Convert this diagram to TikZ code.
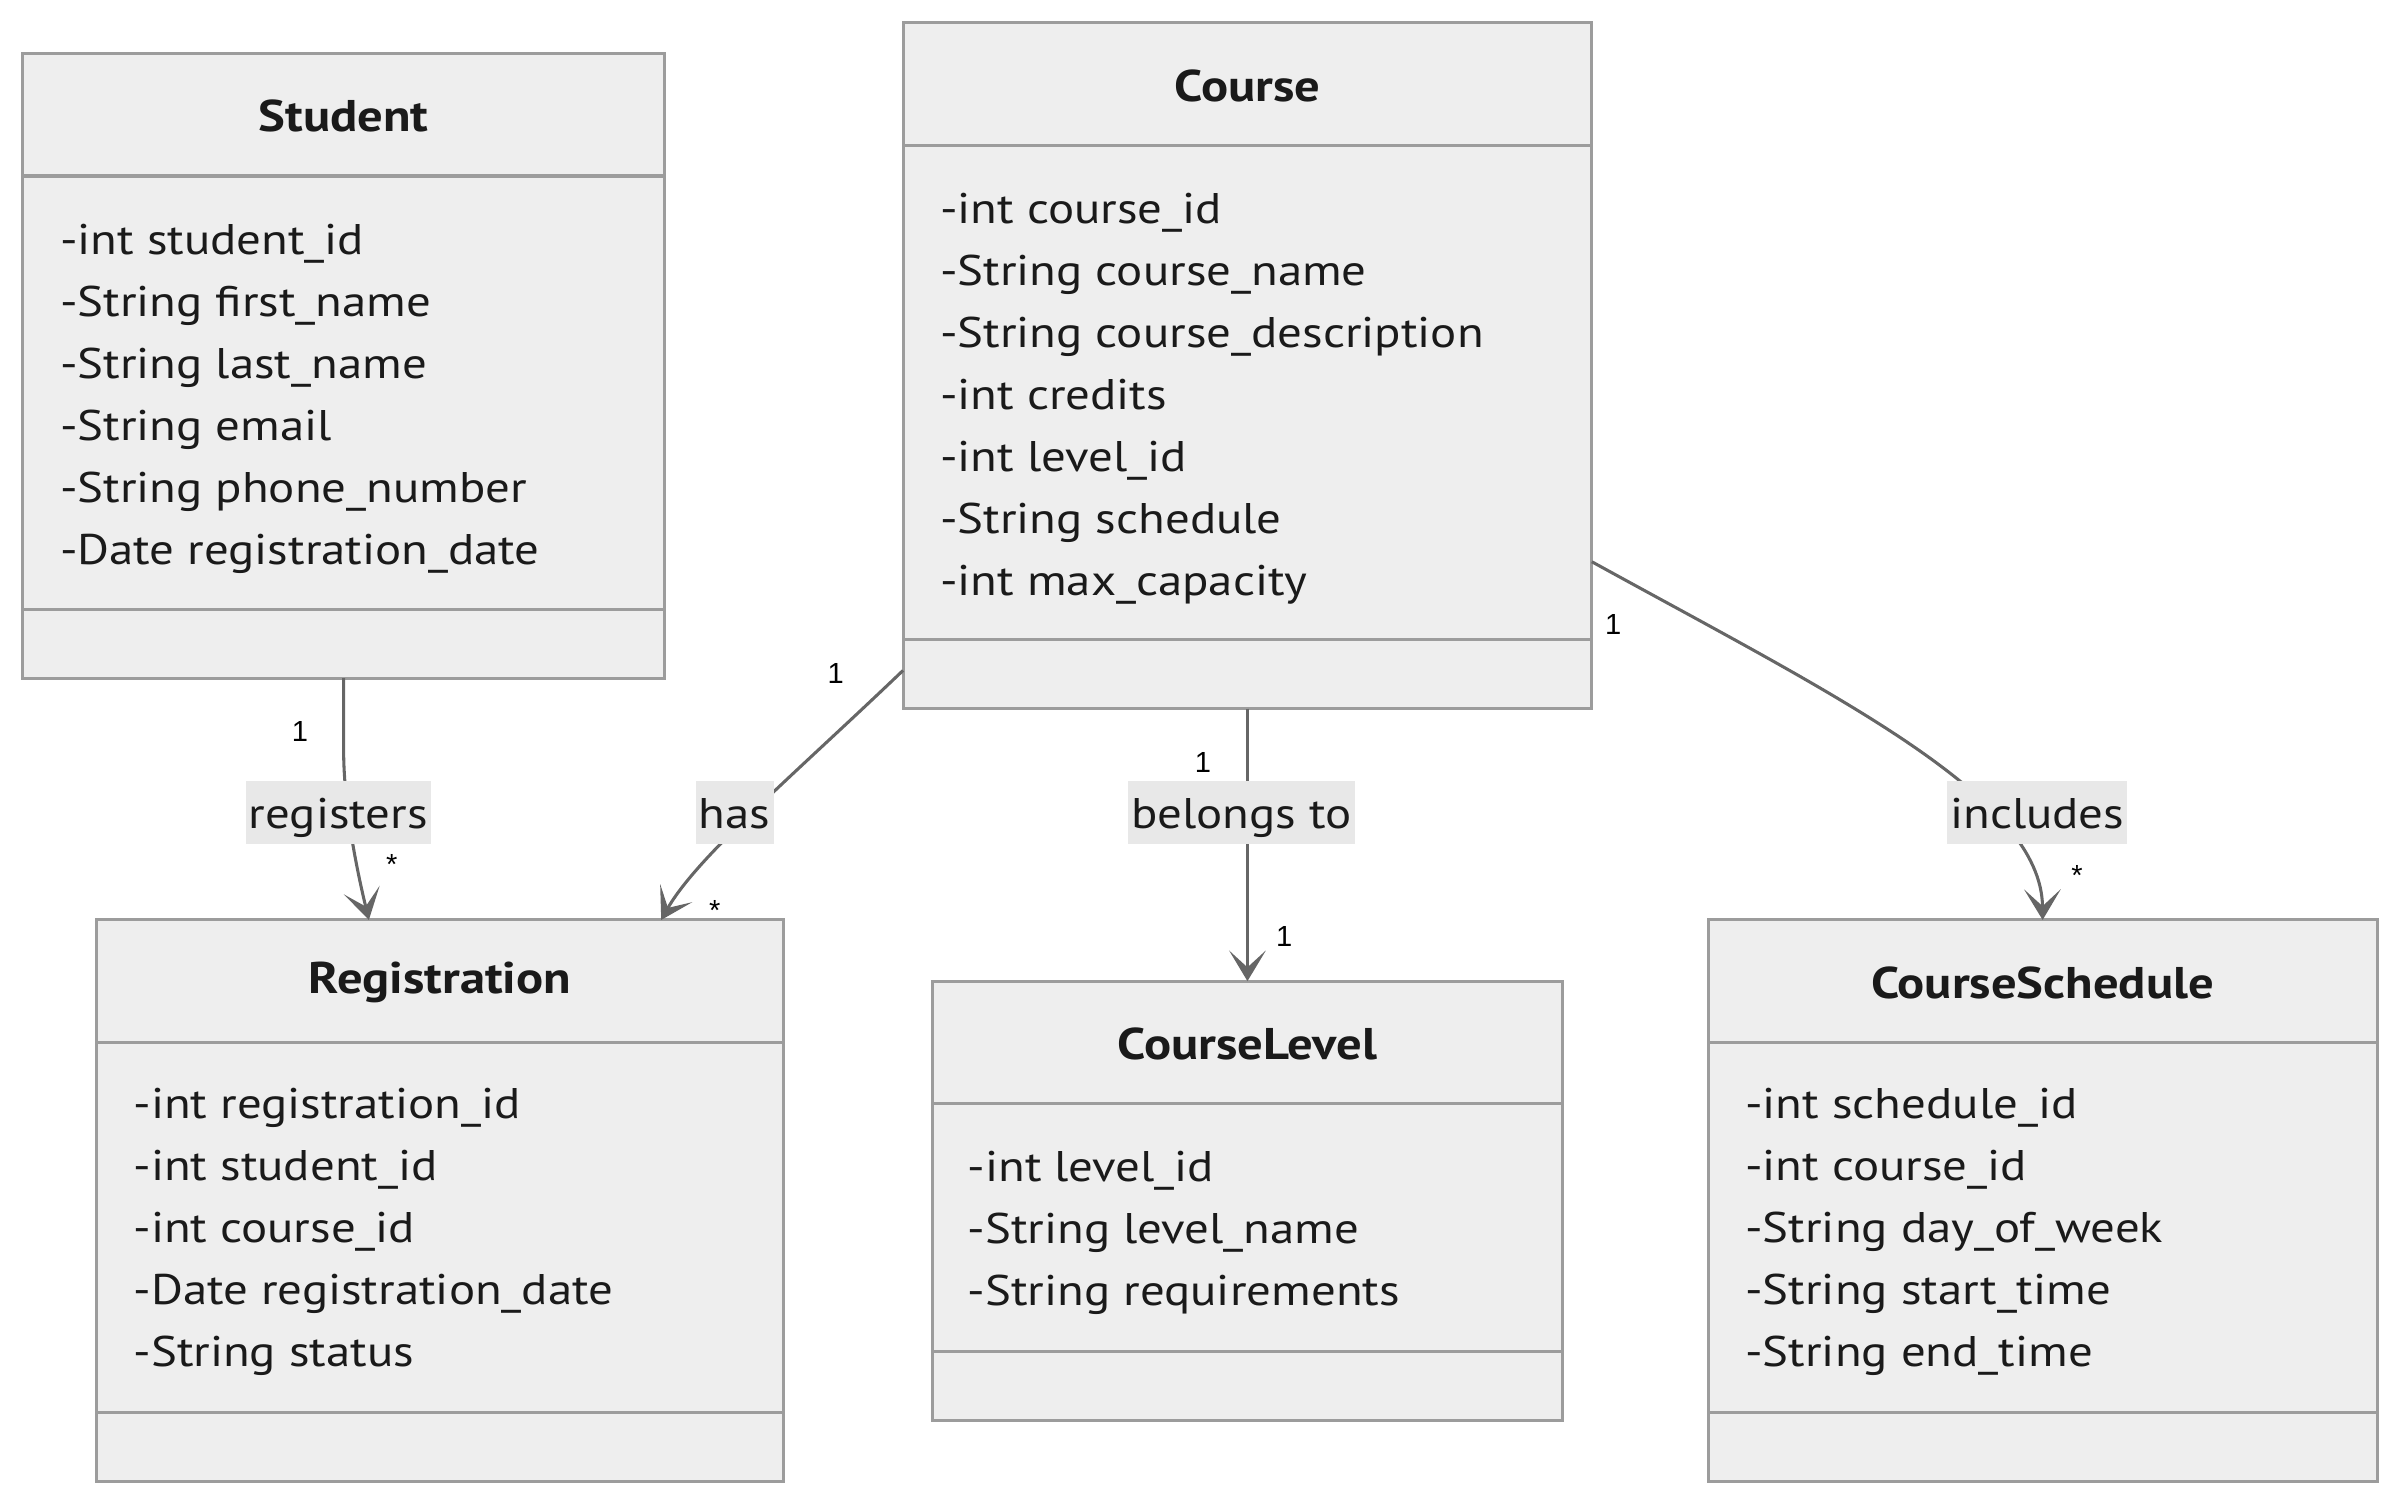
\documentclass[tikz,border=0pt]{standalone}
\usepackage{fontspec}
\setmainfont{PT Sans}[FakeStretch=1.14]
\newfontfamily\multfont{Liberation Sans}
\usetikzlibrary{arrows.meta, positioning, calc}

\definecolor{boxfill}{HTML}{EEEEEE}
\definecolor{boxline}{HTML}{9C9C9C}
\definecolor{edgeline}{HTML}{666666}
\definecolor{lblfill}{HTML}{E8E8E8}
\definecolor{txt}{HTML}{1A1A1A}

\begin{document}
\begin{tikzpicture}[x=1pt, y=-1pt, >={Stealth[length=20pt, width=24pt, inset=11pt]}]
	\tikzstyle{classbox}=[draw=boxline, fill=boxfill, line width=2pt, inner sep=0pt, outer sep=0pt, anchor=north west]
	\tikzstyle{divider}=[draw=boxline, line width=2pt]
	\tikzstyle{title}=[text=txt, font=\fontsize{29}{34}\selectfont\bfseries, inner sep=0pt]
	\tikzstyle{attr}=[text=txt, font=\fontsize{28}{33}\selectfont, anchor=base west, inner sep=0pt]
	\tikzstyle{edge}=[draw=edgeline, line width=2pt]
	\tikzstyle{lbl}=[fill=lblfill, text=txt, font=\fontsize{28}{33}\selectfont, inner xsep=2pt, inner ysep=0pt, text height=24pt, text depth=4pt, minimum height=41pt]
	\tikzstyle{mult}=[text=black, font=\multfont\fontsize{19}{21}\selectfont, inner sep=0pt]

	\useasboundingbox (0,0) rectangle (1568,984);

	% classes
	\node[classbox, minimum width=419pt, minimum height=408pt] (student) at (15,35) {};
	\draw[divider] ($(student.north west)+(0,80)$) -- ($(student.north east)+(0,80)$);
	\draw[divider] ($(student.north west)+(0,363)$) -- ($(student.north east)+(0,363)$);
	\node[title] (student-title) at ($(student.north)+(0,41)$) {Student};
	\foreach \a [count=\i from 0] in {-int student\_id, -String first\_name, -String last\_name, -String email, -String phone\_number, -Date registration\_date}
		\node[attr] (student-a\i) at ($(student.north west)+(24,131+40.5*\i)$) {\a};

	\node[classbox, minimum width=450pt, minimum height=448pt] (course) at (590,15) {};
	\draw[divider] ($(course.north west)+(0,80)$) -- ($(course.north east)+(0,80)$);
	\draw[divider] ($(course.north west)+(0,403)$) -- ($(course.north east)+(0,403)$);
	\node[title] (course-title) at ($(course.north)+(0,41)$) {Course};
	\foreach \a [count=\i from 0] in {-int course\_id, -String course\_name, -String course\_description, -int credits, -int level\_id, -String schedule, -int max\_capacity}
		\node[attr] (course-a\i) at ($(course.north west)+(24,131+40.5*\i)$) {\a};

	\node[classbox, minimum width=449pt, minimum height=367pt] (reg) at (63,601) {};
	\draw[divider] ($(reg.north west)+(0,80)$) -- ($(reg.north east)+(0,80)$);
	\draw[divider] ($(reg.north west)+(0,322)$) -- ($(reg.north east)+(0,322)$);
	\node[title] (reg-title) at ($(reg.north)+(0,41)$) {Registration};
	\foreach \a [count=\i from 0] in {-int registration\_id, -int student\_id, -int course\_id, -Date registration\_date, -String status}
		\node[attr] (reg-a\i) at ($(reg.north west)+(24,130+40.5*\i)$) {\a};

	\node[classbox, minimum width=412pt, minimum height=287pt] (level) at (609,641) {};
	\draw[divider] ($(level.north west)+(0,80)$) -- ($(level.north east)+(0,80)$);
	\draw[divider] ($(level.north west)+(0,242)$) -- ($(level.north east)+(0,242)$);
	\node[title] (level-title) at ($(level.north)+(0,41)$) {CourseLevel};
	\foreach \a [count=\i from 0] in {-int level\_id, -String level\_name, -String requirements}
		\node[attr] (level-a\i) at ($(level.north west)+(23,131+40.5*\i)$) {\a};

	\node[classbox, minimum width=437pt, minimum height=367pt] (sched) at (1116,601) {};
	\draw[divider] ($(sched.north west)+(0,80)$) -- ($(sched.north east)+(0,80)$);
	\draw[divider] ($(sched.north west)+(0,322)$) -- ($(sched.north east)+(0,322)$);
	\node[title] (sched-title) at ($(sched.north)+(0,41)$) {CourseSchedule};
	\foreach \a [count=\i from 0] in {-int schedule\_id, -int course\_id, -String day\_of\_week, -String start\_time, -String end\_time}
		\node[attr] (sched-a\i) at ($(sched.north west)+(24,130+40.5*\i)$) {\a};

	% relations
	\coordinate (reg-in1) at ($(reg.north west)+(178,0)$);
	\coordinate (reg-in2) at ($(reg.north west)+(369,0)$);
	\coordinate (course-out1) at ($(course.south west)+(0,-25)$);
	\coordinate (course-out2) at ($(course.north east)+(0,352)$);

	\draw[edge,->] (student.south) -- ++(0,47) .. controls ++(0,40) and ($(reg-in1)+(-6,-25)$) .. (reg-in1);
	\draw[edge,->] (course-out1) .. controls (520,505) and (455,560) .. (reg-in2);
	\draw[edge,->] (course.south) -- (level.north);
	\draw[edge,->] (course-out2) .. controls (1200,455) and (1334,520) .. (sched.north);

	\node[lbl] (registers) at (221,531) {registers};
	\node[lbl] (has) at (480,531) {has};
	\node[lbl] (belongs) at (811,531) {belongs to};
	\node[lbl] (includes) at (1331,531) {includes};

	\node[mult] (m-student) at (196,478) {1};
	\node[mult] (m-reg1) at (256,565) {*};
	\node[mult] (m-course1) at (546,440) {1};
	\node[mult] (m-reg2) at (467,595) {*};
	\node[mult] (m-course2) at (786,498) {1};
	\node[mult] (m-level) at (839,612) {1};
	\node[mult] (m-course3) at (1054,408) {1};
	\node[mult] (m-sched) at (1357,572) {*};
\end{tikzpicture}
\end{document}
